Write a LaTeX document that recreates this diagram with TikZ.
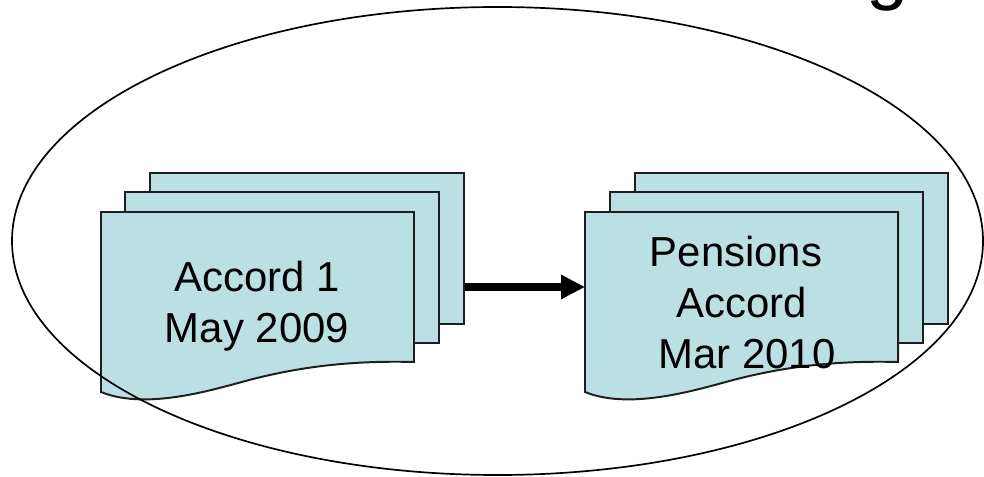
\documentclass[tikz,border=0pt]{standalone}
\usepackage{fontspec}
\setmainfont{Liberation Sans}
\usepackage{tikz}
\usetikzlibrary{arrows.meta}
\usetikzlibrary{calc}
\definecolor{sheetblue}{RGB}{187,224,227}
\definecolor{sheetline}{RGB}{30,30,30}
\tikzstyle{sheet}=[
        draw=sheetline,
        line width=1.4pt,
        fill=sheetblue,
        rectangle,
        minimum width=7.825cm,
        minimum height=3.775cm,
        inner sep=0pt
]
\tikzstyle{front}=[draw=sheetline,line width=1.4pt,fill=sheetblue]
\tikzstyle{label}=[align=center,inner sep=0pt,
        font=\fontsize{29.8}{36.3}\selectfont]
\tikzstyle{ring}=[draw=black,line width=1.2pt]
\tikzstyle{suite}=[-{Triangle[length=0.6cm,width=0.575cm]},line width=5.5pt]

\begin{document}
\begin{tikzpicture}[x=0.025cm,y=-0.025cm]
\useasboundingbox (0,0) rectangle (984,477);
%title
\node[anchor=base west,inner sep=0pt,font=\fontsize{54}{60}\selectfont] (title) at (866,-4) {g};
%first stack
\node[sheet] (a3) at (307,248.5) {};
\node[sheet] (a2) at (282,267.5) {};
\begin{scope}[shift={(101,212)}]
\draw[front] (0,0) -- (313,0) -- (313,150)
  .. controls (239,148) and (189,158) .. (156,166)
  .. controls (123,174) and (49,200) .. (0,180) -- cycle;
\coordinate (a1w) at (0,75);
\end{scope}
\node[label] (a1) at (257,306) {Accord 1\\May 2009};
%second stack
\node[sheet] (b3) at (791.5,248.5) {};
\node[sheet] (b2) at (766.5,267.5) {};
\begin{scope}[shift={(585,212)}]
\draw[front] (0,0) -- (313,0) -- (313,150)
  .. controls (239,148) and (189,158) .. (156,166)
  .. controls (123,174) and (49,200) .. (0,180) -- cycle;
\coordinate (b1w) at (0,75);
\end{scope}
\node[label] (b1) at (741.5,302.7) {Pensions\hspace*{0.275cm}\\Accord\\\hspace*{0.275cm}Mar 2010};
%arrow
\draw[suite] (a3.east |- b1w) -- (b1w);
%outer ring
\draw[ring] (497.5,241) ellipse [x radius=485.5,y radius=234];
\end{tikzpicture}
\end{document}
